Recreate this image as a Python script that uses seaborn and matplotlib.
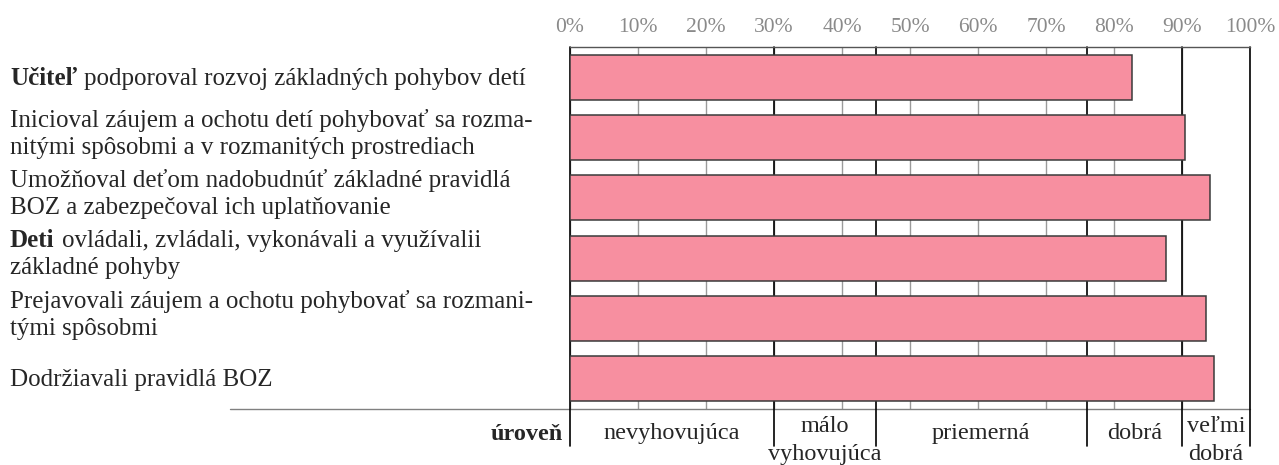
import matplotlib
matplotlib.use("Agg")
import matplotlib.pyplot as plt
from matplotlib import transforms
import seaborn as sns
import pandas as pd

# ---- data ----
bold_words = ["Učiteľ", "", "", "Deti", "", ""]
label_lines = [
    ["podporoval rozvoj základných pohybov detí"],
    ["Inicioval záujem a ochotu detí pohybovať sa rozma-",
     "nitými spôsobmi a v rozmanitých prostrediach"],
    ["Umožňoval deťom nadobudnúť základné pravidlá",
     "BOZ a zabezpečoval ich uplatňovanie"],
    ["ovládali, zvládali, vykonávali a využívalii",
     "základné pohyby"],
    ["Prejavovali záujem a ochotu pohybovať sa rozmani-",
     "tými spôsobmi"],
    ["Dodržiavali pravidlá BOZ"],
]
scores = [82.6, 90.5, 94.1, 87.6, 93.6, 94.7]
level_names = ["nevyhovujúca", "málo\nvyhovujúca", "priemerná", "dobrá", "veľmi\ndobrá"]
level_bounds = [0, 30, 45, 76, 90, 100]
pct_ticks = list(range(0, 101, 10))
level_title = "úroveň"

sns.set_style("white")
FAM = "Liberation Serif"
plt.rcParams["font.family"] = "serif"
plt.rcParams["font.serif"] = ["Liberation Serif", "DejaVu Serif"]
FS = 18         # row labels
FS_LEVEL = 17.5 # level names
FS_TICK = 15.5

df = pd.DataFrame({"item": [f"q{i}" for i in range(len(scores))], "score": scores})

fig = plt.figure(figsize=(12.79, 4.65), dpi=100)
ax = fig.add_axes([570 / 1279, 56 / 465, 680 / 1279, 362 / 465])

sns.barplot(data=df, x="score", y="item", orient="h", color="#F78FA0",
            saturation=1, edgecolor="#3a3a3a", linewidth=1.1, width=0.75,
            ax=ax, zorder=3)

ax.set_xlim(0, 100)
ax.set_ylim(len(scores) - 0.5, -0.5)
ax.set_xlabel("")
ax.set_ylabel("")
ax.set_yticks([])
ax.xaxis.tick_top()
ax.set_xticks(pct_ticks)
ax.set_xticklabels([f"{t}%" for t in pct_ticks], family=FAM, fontsize=FS_TICK,
                   color="#8a8a8a")
ax.tick_params(axis="x", length=0, pad=7)
ax.grid(axis="x", color="#9a9a9a", lw=1.0)
ax.set_axisbelow(True)
for s in ["left", "right", "bottom"]:
    ax.spines[s].set_visible(False)
ax.spines["top"].set_color("#555555")
ax.spines["top"].set_linewidth(1.0)

# bottom rule, extends to the left under the labels
ax.plot([-0.5, 1], [0, 0], transform=ax.transAxes, color="#808080", lw=1.0,
        clip_on=False)

# level boundaries
for b in level_bounds:
    ax.axvline(b, ymin=-0.102, ymax=1, color="black", lw=1.2, clip_on=False, zorder=2)

# level names under the axis
blend = transforms.blended_transform_factory(ax.transData, ax.transAxes)
for name, lo, hi in zip(level_names, level_bounds[:-1], level_bounds[1:]):
    parts = name.split("\n")
    offs = [30] if len(parts) == 1 else [23, 51]
    for line, off in zip(parts, offs):
        ax.text((lo + hi) / 2, 0, line, family=FAM, fontsize=FS_LEVEL, ha="center",
                va="baseline",
                transform=transforms.offset_copy(blend, fig=fig, y=-off, units="dots"))
ax.text(0, 0, level_title, family=FAM, fontsize=FS_LEVEL, fontweight="bold", ha="right",
        va="baseline",
        transform=transforms.offset_copy(blend, fig=fig, x=-7, y=-31, units="dots"))

# row labels, left aligned, bold first word where needed
renderer = fig.canvas.get_renderer()
row_tr = transforms.blended_transform_factory(fig.transFigure, ax.transData)
x0 = 10 / 1279
for i, (bw, lines) in enumerate(zip(bold_words, label_lines)):
    offs = [7.5] if len(lines) == 1 else [-11, 16]
    for j, (line, off) in enumerate(zip(lines, offs)):
        dx = 0
        if j == 0 and bw:
            t = ax.text(x0, i, bw, family=FAM, fontsize=FS, fontweight="bold",
                        ha="left", va="baseline",
                        transform=transforms.offset_copy(row_tr, fig=fig, y=-off, units="dots"))
            dx = t.get_window_extent(renderer=renderer).width + FS * 0.28 * 100 / 72
        ax.text(x0, i, line, family=FAM, fontsize=FS, ha="left", va="baseline",
                transform=transforms.offset_copy(row_tr, fig=fig, x=dx, y=-off, units="dots"))

fig.savefig("out.png", dpi=100)
